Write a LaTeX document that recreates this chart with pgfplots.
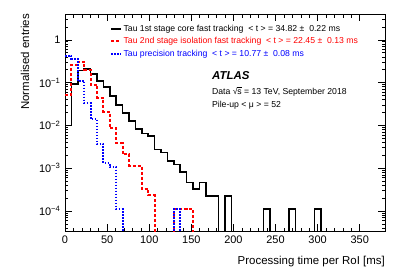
\documentclass[border=0pt]{standalone}
\usepackage{fontspec}
\setmainfont{Liberation Sans}
\usepackage{pgfplots}
\pgfplotsset{compat=1.18}
\definecolor{rootred}{RGB}{255,0,0}
\definecolor{rootblue}{RGB}{0,0,255}
\begin{document}
\begin{tikzpicture}
\useasboundingbox (-65bp,-45bp) rectangle (342bp,231bp);
\begin{axis}[
  scale only axis, width=320bp, height=217bp,
  xmin=0, xmax=380, ymode=log, ymin=3.4e-5, ymax=4,
  xtick={0,50,...,350}, minor x tick num=4,
  ytick={1e-4,1e-3,1e-2,1e-1,1},
  yticklabels={10\textsuperscript{−4},10\textsuperscript{−3},10\textsuperscript{−2},10\textsuperscript{−1},1},
  minor ytick={4e-5,5e-5,6e-5,7e-5,8e-5,9e-5,2e-4,3e-4,4e-4,5e-4,6e-4,7e-4,8e-4,9e-4,2e-3,3e-3,4e-3,5e-3,6e-3,7e-3,8e-3,9e-3,2e-2,3e-2,4e-2,5e-2,6e-2,7e-2,8e-2,9e-2,0.2,0.3,0.4,0.5,0.6,0.7,0.8,0.9,2,3,4},
  tick align=inside, major tick length=7bp, minor tick length=3.5bp,
  tick style={black, line width=0.5bp},
  axis line style={line width=0.8bp},
  /pgf/number format/assume math mode=true,
  tick label style={font=\fontsize{11}{12}\selectfont},
  xticklabel style={yshift=-1bp},
  yticklabel style={xshift=-1bp},
  xlabel={Processing time per RoI [ms]},
  ylabel={Normalised entries},
  label style={font=\fontsize{11.5}{13}\selectfont},
  xlabel style={at={(axis description cs:1,0)}, anchor=north east, inner sep=0pt, yshift=-25bp},
  ylabel style={at={(axis description cs:-0.125,1)}, anchor=east, inner sep=0pt},
  legend style={at={(axis description cs:0.131,0.965)}, anchor=north west, draw=none, fill=none,
    font=\fontsize{8.7}{10}\selectfont, row sep=1.5bp,
    nodes={inner sep=1.5bp}},
  legend cell align=left,
  legend image code/.code={\draw[#1] (0bp,0bp) -- (10bp,0bp);},
]
\addplot[const plot mark left, draw=black, line width=1.6bp] coordinates {
(0,0.0100) (7.6,0.094) (15.2,0.19) (22.8,0.21) (30.4,0.16) (38,0.11) (45.6,0.079)
(53.2,0.048) (60.8,0.030) (68.4,0.0195) (76,0.0125) (83.6,0.0082) (91.2,0.0064)
(98.8,0.0057) (106.4,0.0027) (114,0.0023) (121.6,0.00145) (129.2,0.00122)
(136.8,0.00081) (144.4,0.00046) (152,0.00033) (159.6,0.00046) (167.2,0.00022)
(174.8,0.00022) (182.4,1e-7) (190,0.00022) (197.6,1e-7) (205.2,1e-7) (212.8,1e-7)
(220.4,1e-7) (228,1e-7) (235.6,0.00011) (243.2,1e-7) (250.8,1e-7) (258.4,1e-7)
(266,0.00011) (273.6,1e-7) (281.2,1e-7) (288.8,1e-7) (296.4,0.00011) (304,1e-7)
(380,1e-7)};
\addlegendentry{Tau 1st stage core fast tracking\ \ < t > = 34.82 ±\ \ 0.22 ms}
\addplot[const plot mark left, draw=rootred, line width=2bp, dash pattern=on 3bp off 2bp] coordinates {
(0,0.052) (7.6,0.26) (15.2,0.31) (22.8,0.20) (30.4,0.089) (38,0.044) (45.6,0.021)
(53.2,0.0087) (60.8,0.0039) (68.4,0.0021) (76,0.00115) (83.6,0.00115) (91.2,0.00033)
(98.8,0.00023) (106.4,1e-7) (114,1e-7) (121.6,1e-7) (129.2,0.00011) (136.8,0.00011)
(144.4,0.00011) (152,1e-7) (205.2,1e-7)};
\addlegendentry{\color{rootred}Tau 2nd stage isolation fast tracking\ \ < t > = 22.45 ±\ \ 0.13 ms}
\addplot[const plot mark left, draw=rootblue, line width=2bp, dash pattern=on 1.5bp off 1.5bp] coordinates {
(0,0.42) (7.6,0.36) (15.2,0.11) (22.8,0.033) (30.4,0.014) (38,0.0036) (45.6,0.0013)
(53.2,0.00105) (60.8,0.00011) (68.4,1e-7) (129.2,0.00011) (136.8,1e-7) (205.2,1e-7)};
\addlegendentry{\color{rootblue}Tau precision tracking\ \ < t > = 10.77 ±\ \ 0.08 ms}
\node[anchor=base west, inner sep=0pt, font=\fontsize{11.5}{13}\bfseries\itshape\selectfont] at (rel axis cs:0.459,0.70) {ATLAS};
\node[anchor=base west, inner sep=0pt, font=\fontsize{8.7}{10}\selectfont] at (rel axis cs:0.459,0.631) {Data √\kern-0.2bp\rlap{\rule[6.6bp]{4.4bp}{0.45bp}}s = 13 TeV, September 2018};
\node[anchor=base west, inner sep=0pt, font=\fontsize{8.7}{10}\selectfont] at (rel axis cs:0.459,0.571) {Pile-up < μ > = 52};
\end{axis}
\end{tikzpicture}
\end{document}
